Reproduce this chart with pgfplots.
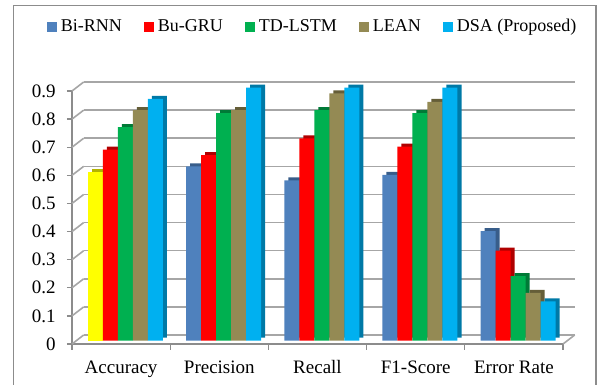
\documentclass[border=0pt]{standalone}
\usepackage{fontspec}
\setmainfont{Liberation Serif}
\usepackage{pgfplots}
\usepackage{pgfplotstable}
\pgfplotsset{compat=1.18}

% series colours (front face / shaded side)
\definecolor{cRNN}{HTML}{4F81BD}   \definecolor{cRNNs}{HTML}{385D8A}
\definecolor{cGRU}{HTML}{FF0000}   \definecolor{cGRUs}{HTML}{B00000}
\definecolor{cLSTM}{HTML}{00B050}  \definecolor{cLSTMs}{HTML}{007A37}
\definecolor{cLEAN}{HTML}{948A54}  \definecolor{cLEANs}{HTML}{655E38}
\definecolor{cDSA}{HTML}{00B0F0}   \definecolor{cDSAs}{HTML}{0079A6}
\definecolor{cACC}{HTML}{FFFF00}   \definecolor{cACCs}{HTML}{B3B300}
\definecolor{gridgray}{HTML}{A6A6A6}
\definecolor{axisgray}{HTML}{8C8C8C}

% x: 0 Accuracy, 1 Precision, 2 Recall, 3 F1-Score, 4 Error Rate
\pgfplotstableread{
x   rnn   gru   lstm  lean  dsa
0   0.60  0.68  0.76  0.82  0.86
1   0.62  0.66  0.81  0.82  0.90
2   0.57  0.72  0.82  0.88  0.90
3   0.59  0.69  0.81  0.85  0.90
4   0.39  0.32  0.23  0.17  0.14
}\scores

\pgfplotsset{
  face/.style={fill=#1, draw=none, xshift=2.15pt, yshift=1.65pt, forget plot},
  depth/.style={fill=#1, draw=none, xshift=4.15pt, yshift=3.15pt, forget plot},
}

\begin{document}
\begin{tikzpicture}
\useasboundingbox (0,0) rectangle (300.5pt,192.5pt);
% chart frame
\draw[axisgray, line width=0.8pt] (6.75pt,-5pt) -- (6.75pt,189.75pt) -- (298pt,189.75pt) -- (298pt,-5pt);
\begin{axis}[
  at={(36pt,20.5pt)}, anchor=south west,
  scale only axis, width=245.5pt, height=126.5pt,
  xmin=-0.5, xmax=4.5, ymin=0, ymax=0.9,
  clip=false,
  ybar, bar width=7.5pt,
  axis x line*=bottom, axis y line*=left,
  axis line style={axisgray, line width=0.7pt},
  tick align=outside,
  xtick={0,...,4},
  xticklabels={Accuracy,Precision,Recall,F1-Score,Error Rate},
  major x tick style={draw=none},
  minor xtick={-0.5,0.5,...,4.5},
  minor x tick style={axisgray, line width=0.7pt},
  minor tick length=3pt,
  ytick={0,0.1,...,0.9},
  y tick style={axisgray, line width=0.7pt},
  major tick length=2.6pt,
  ymajorgrids,
  grid style={gridgray, line width=0.8pt, xshift=5.85pt, yshift=4.5pt},
  /pgf/number format/assume math mode=true,
  tick label style={font=\fontsize{9.5}{11}\selectfont, black},
  xticklabel style={text height=1.6ex, text depth=0.4ex, yshift=-1.2pt},
  yticklabel style={xshift=-2pt},
  legend columns=5,
  legend image code/.code={\fill[#1] (0.6pt,-2.3pt) rectangle (5.2pt,2.3pt);},
  legend style={at={(0.492,1.252)}, anchor=center, draw=none, fill=none,
    font=\fontsize{9}{11}\selectfont,
    /tikz/every even column/.append style={column sep=9pt}},
]
% shaded sides and tops of the columns
\addplot[depth=cACCs, bar shift=-15pt, restrict x to domain=0:0] table[x=x,y=rnn]{\scores};
\addplot[depth=cRNNs, bar shift=-15pt, restrict x to domain=1:4] table[x=x,y=rnn]{\scores};
\addplot[depth=cGRUs, bar shift=-7.5pt] table[x=x,y=gru]{\scores};
\addplot[depth=cLSTMs, bar shift=0pt] table[x=x,y=lstm]{\scores};
\addplot[depth=cLEANs, bar shift=7.5pt] table[x=x,y=lean]{\scores};
\addplot[depth=cDSAs, bar shift=15pt] table[x=x,y=dsa]{\scores};
% front faces
\addplot[face=cACC, bar shift=-15pt, restrict x to domain=0:0] table[x=x,y=rnn]{\scores};
\addplot[face=cRNN, bar shift=-15pt, restrict x to domain=1:4] table[x=x,y=rnn]{\scores};
\addplot[face=cGRU, bar shift=-7.5pt] table[x=x,y=gru]{\scores};
\addplot[face=cLSTM, bar shift=0pt] table[x=x,y=lstm]{\scores};
\addplot[face=cLEAN, bar shift=7.5pt] table[x=x,y=lean]{\scores};
\addplot[face=cDSA, bar shift=15pt] table[x=x,y=dsa]{\scores};
% side wall and floor edges
\pgfplotsinvokeforeach{0,0.1,0.2,0.3,0.4,0.5,0.6,0.7,0.8,0.9}{
  \draw[gridgray, line width=0.8pt] (axis cs:-0.5,#1) -- ++(5.85pt,4.5pt);
}
\draw[gridgray, line width=0.8pt] (axis cs:4.5,0) -- ++(5.85pt,4.5pt);
\addlegendimage{cRNN}
\addlegendimage{cGRU}
\addlegendimage{cLSTM}
\addlegendimage{cLEAN}
\addlegendimage{cDSA}
\legend{Bi-RNN,Bu-GRU,TD-LSTM,LEAN,DSA (Proposed)}
\end{axis}
\end{tikzpicture}
\end{document}
